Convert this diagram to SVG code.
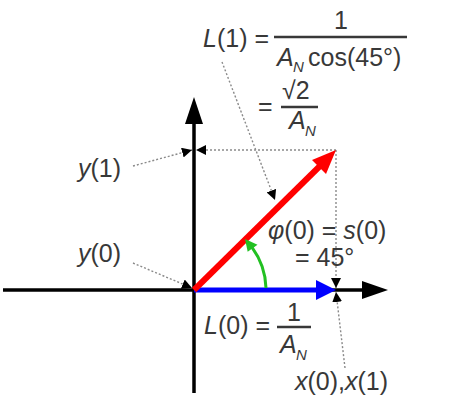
<svg xmlns="http://www.w3.org/2000/svg" width="450" height="405" viewBox="0 0 450 405">
<defs>
<marker id="tri" viewBox="0 0 10 10" refX="10" refY="5" markerWidth="10" markerHeight="10" markerUnits="userSpaceOnUse" orient="auto">
<path d="M0,0 L10,5 L0,10 Z" fill="#000"/>
</marker>
</defs>
<style>
text{font-family:"Liberation Sans",Arial,sans-serif;font-size:25px;fill:#383838}
.i{font-style:italic}
.sub{font-size:15px;font-style:italic}
.bar{stroke:#383838;stroke-width:2.5}
.dot{stroke:#8a8a8a;stroke-width:1.4;stroke-dasharray:2 2;fill:none}
.ax{stroke:#000;stroke-width:3.5}
</style>
<rect width="450" height="405" fill="#fff"/>
<g id="connectors">
<line class="dot" x1="336" y1="150" x2="196" y2="150" marker-end="url(#tri)"/>
<line class="dot" x1="336" y1="150" x2="336" y2="288" marker-end="url(#tri)"/>
<line class="dot" x1="133" y1="166" x2="192" y2="150" marker-end="url(#tri)"/>
<line class="dot" x1="133" y1="263" x2="192" y2="288" marker-end="url(#tri)"/>
<line class="dot" x1="345" y1="368" x2="336" y2="292" marker-end="url(#tri)"/>
<line class="dot" x1="222" y1="62" x2="275" y2="200" marker-end="url(#tri)"/>
</g>
<g id="axes">
<line class="ax" x1="3" y1="290" x2="366" y2="290"/>
<polygon points="388,290 362,281 362,299" fill="#000"/>
<line class="ax" x1="194" y1="393" x2="194" y2="120"/>
<polygon points="194,97 185,124 203,124" fill="#000"/>
</g>
<g id="vector-blue">
<line x1="194" y1="290" x2="318" y2="290" stroke="#0000ff" stroke-width="5"/>
<polygon points="336,290 316,280 316,300" fill="#0000ff"/>
</g>
<g id="vector-red">
<line x1="194" y1="290" x2="322" y2="164" stroke="#ff0000" stroke-width="6"/>
<polygon points="336,150 326,174 312,160" fill="#ff0000"/>
</g>
<g id="angle">
<path d="M266,288 A72,72 0 0 0 252.2,247.7" fill="none" stroke="#22c022" stroke-width="3"/>
<polygon points="245,239 257.5,244.7 247.7,251.7" fill="#22c022"/>
</g>
<g id="label-L1">
<text x="203" y="47"><tspan class="i">L</tspan>(1) =</text>
<text x="341" y="29" text-anchor="middle">1</text>
<line class="bar" x1="274" y1="37" x2="407" y2="37"/>
<text x="277" y="66" class="i">A</text>
<text x="293" y="72" class="sub">N</text>
<text x="308" y="66">cos(45°)</text>
<text x="258" y="115">=</text>
<text x="282" y="99">√2</text>
<line class="bar" x1="281" y1="107" x2="318" y2="107"/>
<text x="289" y="129" class="i">A</text>
<text x="305" y="136" class="sub">N</text>
</g>
<g id="label-y1"><text x="78" y="177"><tspan class="i">y</tspan>(1)</text></g>
<g id="label-y0"><text x="78" y="262"><tspan class="i">y</tspan>(0)</text></g>
<g id="label-phi"><text x="268" y="239"><tspan class="i">φ</tspan>(0) = <tspan class="i">s</tspan>(0)</text>
<text x="295" y="266">= 45°</text></g>
<g id="label-L0">
<text x="204" y="334"><tspan class="i">L</tspan>(0) =</text>
<text x="294" y="321" text-anchor="middle">1</text>
<line class="bar" x1="277" y1="327" x2="311" y2="327"/>
<text x="280" y="353" class="i">A</text>
<text x="296" y="360" class="sub">N</text>
</g>
<g id="label-x"><text x="295" y="390"><tspan class="i">x</tspan>(0),<tspan class="i">x</tspan>(1)</text></g>
</svg>
